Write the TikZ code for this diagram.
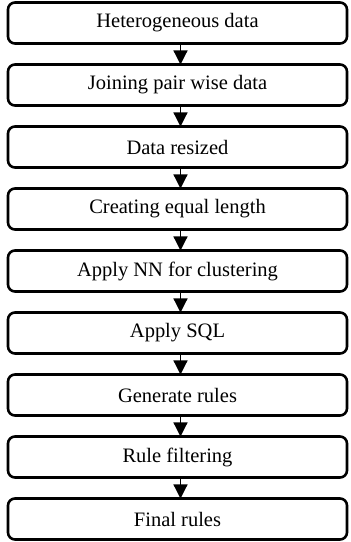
\documentclass[tikz,border=0pt]{standalone}
\usepackage{fontspec}
\setmainfont{Liberation Serif}
\usetikzlibrary{positioning}
\usetikzlibrary{arrows.meta}

\begin{document}
\begin{tikzpicture}
  [x=1pt,y=1pt,node distance=21pt,
  stepbox/.style={rectangle,rounded corners=7pt,draw=black,line width=2.6pt,fill=white,
    minimum width=339pt,minimum height=41pt,inner sep=0pt,outer sep=0pt,
    font=\fontsize{20.5}{24}\selectfont},
  flow/.style={-{Triangle[width=14pt,length=14pt]},black,line width=1.2pt}]
  \useasboundingbox (0,0) rectangle (351,542);

  \node[stepbox] (1) at (177.5,519) {Heterogeneous data};
  \node[stepbox,below=of 1] (2) {Joining pair wise data};
  \node[stepbox,below=of 2] (3) {Data resized};
  \node[stepbox,below=of 3] (4) {Creating equal length};
  \node[stepbox,below=of 4] (5) {Apply NN for clustering};
  \node[stepbox,below=of 5] (6) {Apply SQL};
  \node[stepbox,below=of 6] (7) {Generate rules};
  \node[stepbox,below=of 7] (8) {Rule filtering};
  \node[stepbox,below=of 8] (9) {Final rules};

  \foreach \a/\b in {1/2,2/3,3/4,4/5,5/6,6/7,7/8,8/9}
    \draw [flow] ([xshift=3pt]\a.south) -- ([xshift=3pt]\b.north);
\end{tikzpicture}
\end{document}
